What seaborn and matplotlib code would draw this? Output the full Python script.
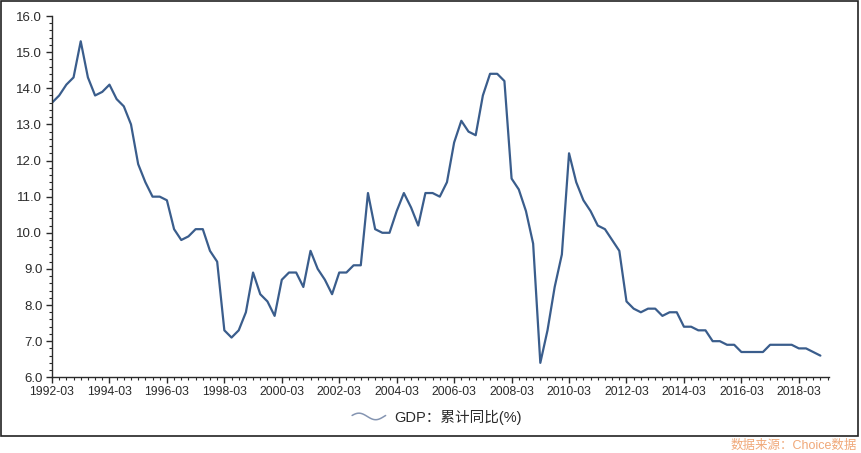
import matplotlib
matplotlib.use('Agg')
import matplotlib.pyplot as plot
import numpy as np
import pandas as pd
import seaborn as sns
from matplotlib.legend_handler import HandlerBase
from matplotlib.lines import Line2D
from matplotlib.patches import Rectangle
from matplotlib.ticker import MultipleLocator, FixedLocator

# quarterly cumulative GDP growth, 1992Q1 .. 2018Q4
gdp_values = [
    13.6, 13.8, 14.1, 14.3, 15.3, 14.3, 13.8, 13.9,
    14.1, 13.7, 13.5, 13.0, 11.9, 11.4, 11.0, 11.0,
    10.9, 10.1, 9.8, 9.9, 10.1, 10.1, 9.5, 9.2,
    7.3, 7.1, 7.3, 7.8, 8.9, 8.3, 8.1, 7.7,
    8.7, 8.9, 8.9, 8.5, 9.5, 9.0, 8.7, 8.3,
    8.9, 8.9, 9.1, 9.1, 11.1, 10.1, 10.0, 10.0,
    10.6, 11.1, 10.7, 10.2, 11.1, 11.1, 11.0, 11.4,
    12.5, 13.1, 12.8, 12.7, 13.8, 14.4, 14.4, 14.2,
    11.5, 11.2, 10.6, 9.7, 6.4, 7.3, 8.5, 9.4,
    12.2, 11.4, 10.9, 10.6, 10.2, 10.1, 9.8, 9.5,
    8.1, 7.9, 7.8, 7.9, 7.9, 7.7, 7.8, 7.8,
    7.4, 7.4, 7.3, 7.3, 7.0, 7.0, 6.9, 6.9,
    6.7, 6.7, 6.7, 6.7, 6.9, 6.9, 6.9, 6.9,
    6.8, 6.8, 6.7, 6.6,
]
quarters = pd.period_range('1992Q1', periods=len(gdp_values), freq='Q')
quarter_labels = [q.strftime('%Y-%m') for q in quarters]
series_name = 'GDP：累计同比(%)'
source_note = '数据来源：Choice数据'

line_color = '#3a5d8c'
legend_color = '#8595b2'
text_color = '#2a2a2a'


class WaveHandler(HandlerBase):
    def create_artists(self, legend, orig_handle, xdescent, ydescent,
                       width, height, fontsize, trans):
        t = np.linspace(0, 1, 60)
        xs = -xdescent + t * width
        ys = -ydescent + height / 2 + np.sin(t * 2 * np.pi + 0.3) * height * 0.32
        return [Line2D(xs, ys, color=legend_color, lw=1.1, transform=trans)]


if __name__ == '__main__':
    sns.set_style('ticks')
    plot.rcParams['font.family'] = ['Liberation Sans', 'Noto Sans CJK SC', 'DejaVu Sans']

    df = pd.DataFrame({'idx': np.arange(len(gdp_values)), 'value': gdp_values})

    fig = plot.figure(figsize=(8.61, 4.53), dpi=100)
    ax = fig.add_axes([52 / 861, 1 - 377.3 / 453, (829 - 52) / 861, (377.3 - 16) / 453])
    sns.lineplot(data=df, x='idx', y='value', ax=ax, color=line_color, lw=1.6)

    ax.set_xlim(0, 108.2)
    ax.set_ylim(6, 16)
    major_idx = [i for i, q in enumerate(quarters) if q.quarter == 1 and q.year % 2 == 0]
    ax.xaxis.set_major_locator(FixedLocator(major_idx))
    ax.set_xticklabels([quarter_labels[i] for i in major_idx])
    ax.xaxis.set_minor_locator(MultipleLocator(1))
    ax.yaxis.set_major_locator(MultipleLocator(1))
    ax.yaxis.set_minor_locator(MultipleLocator(0.2))
    ax.yaxis.set_major_formatter(matplotlib.ticker.FormatStrFormatter('%.1f'))

    for s in ['top', 'right']:
        ax.spines[s].set_visible(False)
    for s in ['left', 'bottom']:
        ax.spines[s].set_color(text_color)
        ax.spines[s].set_linewidth(1.0)
    ax.tick_params(which='major', length=4, width=1, color=text_color,
                   labelcolor=text_color, pad=2)
    ax.tick_params(which='minor', length=2.2, width=0.8, color=text_color)
    for lab in ax.get_xticklabels():
        lab.set_fontsize(8.8)
    for lab in ax.get_yticklabels():
        lab.set_fontsize(9.5)
    ax.tick_params(axis='y', pad=3)
    ax.set_xlabel('')
    ax.set_ylabel('')

    handle = Line2D([], [], color=legend_color)
    fig.legend([handle], [series_name], handler_map={Line2D: WaveHandler()},
               loc='center', bbox_to_anchor=(437 / 861, 1 - 417 / 453),
               frameon=False, fontsize=10.5, handlelength=2.3, handletextpad=0.6,
               labelcolor=text_color)

    fig.patches.append(Rectangle((0.5 / 861, 1 - 436 / 453), 857.5 / 861, 435.5 / 453,
                                 transform=fig.transFigure, fill=False,
                                 edgecolor='#222222', lw=1.2))
    fig.text(857 / 861, 1 - 446 / 453, source_note, ha='right', va='center',
             color='#f0a878', fontsize=9)

    plot.savefig('out.png', dpi=100)
